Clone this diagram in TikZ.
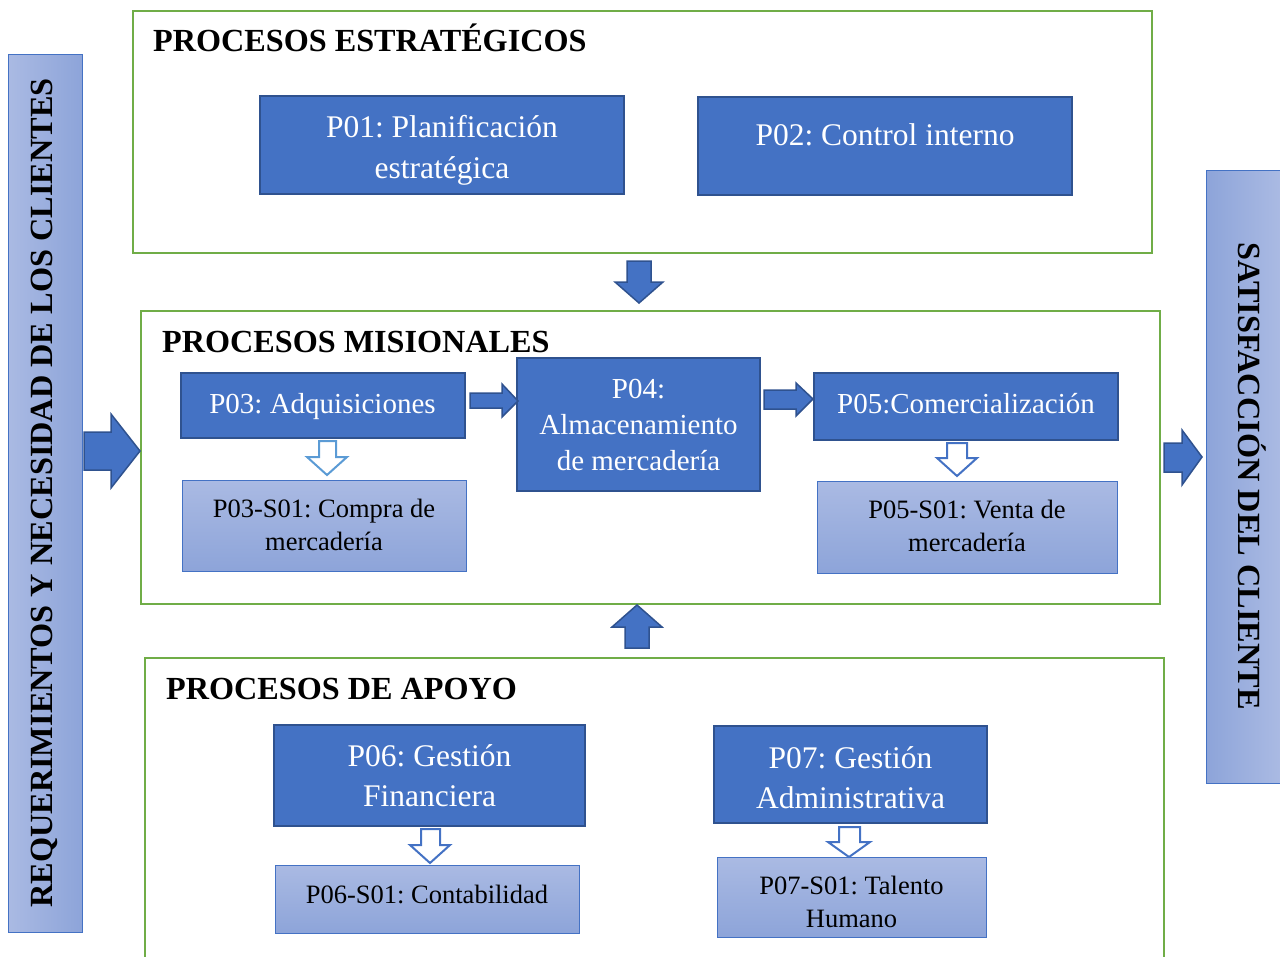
\documentclass[tikz,border=0pt]{standalone}
\usepackage{fontspec}
\setmainfont{Liberation Serif}
\frenchspacing
\definecolor{boxfill}{HTML}{4472C4}
\definecolor{boxline}{HTML}{2F528F}
\definecolor{grn}{HTML}{70AD47}
\definecolor{lightA}{HTML}{AABAE3}
\definecolor{lightB}{HTML}{8DA4D9}
\definecolor{hollowline}{HTML}{4472C4}
\definecolor{hollowlight}{HTML}{5B9BD5}
\begin{document}
\begin{tikzpicture}[x=1pt,y=-1pt,
  group/.style={draw=grn,line width=2.5pt},
  mainbox/.style={draw=boxline,line width=2pt,fill=boxfill,inner sep=0pt},
  maintext/.style={text=white,align=center,inner sep=0pt,font=\fontsize{29}{36}\selectfont},
  bigtext/.style={maintext,font=\fontsize{31.5}{40.5}\selectfont},
  subbox/.style={draw=boxfill,line width=1pt,top color=lightA,bottom color=lightB,inner sep=0pt},
  subtext/.style={align=center,inner sep=0pt,font=\fontsize{26.5}{33}\selectfont},
  title/.style={anchor=base west,inner sep=0pt,font=\fontsize{32.2}{38}\selectfont\bfseries},
  bartext/.style={inner sep=0pt,font=\fontsize{32.3}{38}\selectfont\bfseries},
  blk/.style={draw=boxline,line width=1.5pt,fill=boxfill,line join=miter},
  hollow/.style={draw=hollowline,line width=2pt,fill=white,line join=miter}]
\useasboundingbox (0,0) rectangle (1280,956);
\clip (0,0) rectangle (1280,956);

% side bars
\shade[left color=lightA,right color=lightB,draw=boxfill,line width=1pt] (8,54) rectangle (82,932);
\node[bartext,rotate=90,anchor=base] (req) at (52,493) {REQUERIMIENTOS Y NECESIDAD DE LOS CLIENTES};
\shade[left color=lightB,right color=lightA,draw=boxfill,line width=1pt] (1206,170) rectangle (1280,783);
\node[bartext,rotate=-90,anchor=base] (sat) at (1238,476) {SATISFACCIÓN DEL CLIENTE};

% group frames
\draw[group] (133,11) rectangle (1152,253);
\draw[group] (141,311) rectangle (1160,604);
\draw[group] (145,960) -- (145,658) -- (1164,658) -- (1164,960);

\node[title] (t1) at (153,51) {PROCESOS ESTRATÉGICOS};
\node[title] (t2) at (162,352) {PROCESOS MISIONALES};
\node[title] (t3) at (166,699) {PROCESOS DE APOYO};

% strategic
\node[mainbox,minimum width=364,minimum height=98,label={[bigtext,yshift=-5.5pt]center:P01: Planificación\\estratégica}] (p01) at (442,145) {};
\node[mainbox,minimum width=374,minimum height=98,label={[bigtext,yshift=11pt]center:P02: Control interno}] (p02) at (885,146) {};

% missional
\node[mainbox,minimum width=284,minimum height=65,label={[maintext,yshift=-1pt]center:P03: Adquisiciones}] (p03) at (322.5,405.5) {};
\node[mainbox,minimum width=243,minimum height=133,label={[maintext]center:P04:\\Almacenamiento\\de mercadería}] (p04) at (638.5,424.5) {};
\node[mainbox,minimum width=304,minimum height=67,label={[maintext,yshift=3pt]center:P05:Comercialización}] (p05) at (966,406.5) {};
\node[subbox,minimum width=284,minimum height=91,label={[subtext,yshift=1pt]center:P03-S01: Compra de\\mercadería}] (s03) at (324,525.5) {};
\node[subbox,minimum width=300,minimum height=92,label={[subtext,yshift=1pt]center:P05-S01: Venta de\\mercadería}] (s05) at (967,527) {};

% support
\node[mainbox,minimum width=311,minimum height=101,label={[bigtext]center:P06: Gestión\\Financiera}] (p06) at (429.5,775.5) {};
\node[mainbox,minimum width=273,minimum height=97,label={[bigtext,yshift=-3pt]center:P07: Gestión\\Administrativa}] (p07) at (850.5,774.5) {};
\node[subbox,minimum width=304,minimum height=68,label={[subtext,yshift=5pt]center:P06-S01: Contabilidad}] (s06) at (427,899) {};
\node[subbox,minimum width=269,minimum height=80,label={[subtext,yshift=-4.5pt]center:P07-S01: Talento\\Humano}] (s07) at (851.5,897) {};

% block arrows
\draw[blk] (627,261) -- (651,261) -- (651,282) -- (663,282) -- (639,303) -- (615,282) -- (627,282) -- cycle;
\draw[blk] (637,605) -- (662,627) -- (649,627) -- (649,648) -- (625,648) -- (625,627) -- (612,627) -- cycle;
\draw[blk] (84,432) -- (111,432) -- (111,414) -- (140,451) -- (111,488) -- (111,470) -- (84,470) -- cycle;
\draw[blk] (1164,443) -- (1182,443) -- (1182,430) -- (1202,457) -- (1182,485) -- (1182,472) -- (1164,472) -- cycle;
\draw[blk] (470,393) -- (502,393) -- (502,384) -- (518,401) -- (502,417) -- (502,408) -- (470,408) -- cycle;
\draw[blk] (764,390) -- (796,390) -- (796,383) -- (813,399) -- (796,416) -- (796,409) -- (764,409) -- cycle;

% hollow arrows
\draw[hollow,draw=hollowlight] (319,441) -- (336,441) -- (336,457) -- (347,457) -- (327,475) -- (307,457) -- (319,457) -- cycle;
\draw[hollow] (947,443) -- (967,443) -- (967,458) -- (977,458) -- (957,476) -- (937,458) -- (947,458) -- cycle;
\draw[hollow] (421,829) -- (440,829) -- (440,845) -- (450,845) -- (430,863) -- (410,845) -- (421,845) -- cycle;
\draw[hollow] (839,827) -- (860,827) -- (860,842) -- (870,842) -- (849,857) -- (828,842) -- (839,842) -- cycle;
\end{tikzpicture}
\end{document}
